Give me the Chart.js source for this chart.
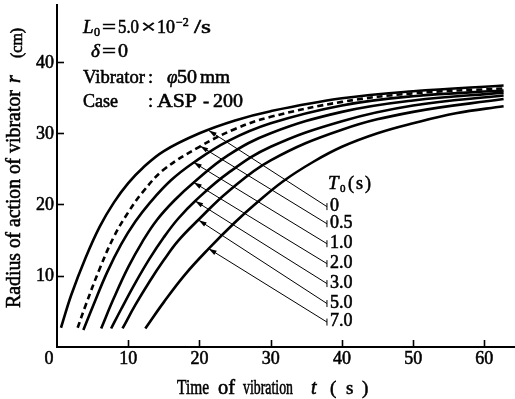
<!DOCTYPE html>
<html><head><meta charset="utf-8">
<script src="https://cdn.jsdelivr.net/npm/chart.js@4/dist/chart.umd.min.js"></script>
<style>html,body{margin:0;padding:0;background:#fff;overflow:hidden}</style>
</head><body>
<canvas id="c" width="515" height="399"></canvas>
<script>
// ---- data ----
const seriesLabels = ['0', '0.5', '1.0', '2.0', '3.0', '5.0', '7.0'];
const t_0   = [0.56, 2, 4, 6, 8, 10, 12, 15, 20, 25, 30, 40, 50, 62.7];
const r_0   = [2.7, 7.3, 12.5, 16.9, 20.3, 23.0, 25.1, 27.5, 30.0, 31.8, 33.1, 34.9, 35.9, 36.7];
const t_05  = [2.9, 4, 6, 8, 10, 12, 15, 20, 25, 30, 40, 50, 62.7];
const r_05  = [2.7, 5.8, 11.0, 15.5, 18.9, 21.7, 24.9, 28.1, 30.6, 32.3, 34.4, 35.6, 36.3];
const t_10  = [3.7, 5, 7, 9, 11, 13, 16, 19.2, 24, 30, 40, 50, 62.7];
const r_10  = [2.4, 5.6, 10.4, 14.4, 17.6, 20.2, 23.4, 25.9, 28.9, 31.4, 33.9, 35.2, 36.0];
const t_20  = [6.2, 8, 10, 12, 14, 16.5, 19.2, 24, 30, 40, 50, 62.7];
const r_20  = [2.6, 6.9, 11.2, 14.8, 17.8, 20.6, 23.1, 26.9, 30.0, 33.0, 34.6, 35.7];
const t_30  = [7.6, 9, 11, 13, 15, 17, 19.4, 24, 30, 40, 50, 62.7];
const r_30  = [2.6, 5.3, 9.0, 12.4, 15.4, 18.0, 20.5, 24.4, 28.1, 31.7, 33.9, 35.3];
const t_50  = [9.2, 11, 13, 15, 17, 19.9, 24, 30, 40, 50, 62.7];
const r_50  = [2.6, 5.9, 9.2, 12.2, 14.9, 17.9, 21.8, 26.2, 30.5, 33.0, 34.8];
const t_70  = [12.4, 15, 18, 21.3, 25, 28, 31.8, 36, 40, 45, 50, 56, 62.7];
const r_70  = [2.6, 6.3, 10.2, 13.8, 17.5, 20.2, 23.3, 26.0, 28.1, 30.0, 31.4, 32.8, 33.8];
const xTicks = [0, 10, 20, 30, 40, 50, 60];
const yTicks = [10, 20, 30, 40];
// arrow tips on the curves and label anchors (data units)
const tipT = [21.3, 20.1, 19.2, 19.2, 19.4, 19.9, 21.3];
const tipR = [30.4, 28.2, 25.9, 23.1, 20.5, 17.8, 13.8];
const labelT = 37.9;
const labelR = [19.7, 17.3, 14.5, 11.7, 8.9, 6.1, 3.5];

const tSets = [t_0, t_05, t_10, t_20, t_30, t_50, t_70];
const rSets = [r_0, r_05, r_10, r_20, r_30, r_50, r_70];

const SERIF = '"Liberation Serif", "DejaVu Serif", serif';
const F = (s, st) => (st ? st + ' ' : '') + s + 'px ' + SERIF;

const datasets = tSets.map((ts, i) => ({
  label: 'T0=' + seriesLabels[i],
  data: ts.map((t, k) => ({x: t, y: rSets[i][k]})),
  showLine: true,
  borderColor: '#000',
  borderWidth: 2.6,
  borderDash: i === 1 ? [6, 4] : [],
  pointRadius: 0,
  fill: false,
  tension: 0.4
}));

// text filled + thin stroke; optional target width w (horizontal fit)
function txt(ctx, s, x, y, w) {
  const m = ctx.measureText(s).width;
  ctx.save();
  ctx.translate(x, y);
  if (w && m > 0) ctx.scale(w / m, 1);
  ctx.fillText(s, 0, 0);
  ctx.lineWidth = 0.55;
  ctx.strokeText(s, 0, 0);
  ctx.restore();
}
function rich(ctx, y, parts) {
  for (const p of parts) {
    ctx.font = p.f;
    txt(ctx, p.t, p.x, y + (p.dy || 0), p.w);
  }
}

const overlay = {
  id: 'overlay',
  afterDraw(chart) {
    const ctx = chart.ctx;
    const xs = chart.scales.x, ys = chart.scales.y;
    ctx.save();
    ctx.fillStyle = '#000';
    ctx.strokeStyle = '#000';
    ctx.textAlign = 'left';
    // inward ticks
    ctx.lineWidth = 1.6;
    const y0 = ys.getPixelForValue(0), x0 = xs.getPixelForValue(0);
    xTicks.forEach(v => {
      if (v === 0) return;
      const px = Math.round(xs.getPixelForValue(v)) + 0.5;
      ctx.beginPath(); ctx.moveTo(px, y0); ctx.lineTo(px, y0 - 7); ctx.stroke();
    });
    yTicks.forEach(v => {
      const py = Math.round(ys.getPixelForValue(v)) + 0.5;
      ctx.beginPath(); ctx.moveTo(x0, py); ctx.lineTo(x0 + 7, py); ctx.stroke();
    });
    // tick labels
    ctx.font = F(18);
    ctx.textBaseline = 'middle';
    ctx.textAlign = 'center';
    xTicks.forEach(v => {
      const px = xs.getPixelForValue(v) - (v === 0 ? 8 : 0);
      txt(ctx, String(v), px, y0 + 12);
    });
    ctx.textAlign = 'right';
    yTicks.forEach(v => {
      txt(ctx, String(v), x0 - 3, ys.getPixelForValue(v) + 1);
    });
    // arrows with labels
    ctx.textAlign = 'left';
    tipT.forEach((tt, i) => {
      const ax = xs.getPixelForValue(labelT), ay = ys.getPixelForValue(labelR[i]);
      const bx = xs.getPixelForValue(tt), by = ys.getPixelForValue(tipR[i]);
      ctx.lineWidth = 1;
      ctx.beginPath(); ctx.moveTo(ax, ay); ctx.lineTo(bx, by); ctx.stroke();
      ctx.beginPath(); ctx.moveTo(ax, ay - 3.5); ctx.lineTo(ax, ay + 3.5); ctx.stroke();
      const ang = Math.atan2(by - ay, bx - ax);
      const L = 8, W = 2.4;
      ctx.beginPath();
      ctx.moveTo(bx, by);
      ctx.lineTo(bx - L * Math.cos(ang) + W * Math.sin(ang), by - L * Math.sin(ang) - W * Math.cos(ang));
      ctx.lineTo(bx - L * Math.cos(ang) - W * Math.sin(ang), by - L * Math.sin(ang) + W * Math.cos(ang));
      ctx.closePath(); ctx.fill();
      ctx.font = F(18);
      txt(ctx, seriesLabels[i], ax + 3, ay - 0.5);
    });
    // T0 (s)
    ctx.textBaseline = 'alphabetic';
    const tx = xs.getPixelForValue(labelT) + 1;
    rich(ctx, 189, [
      {t: 'T', f: F(19, 'italic'), x: tx},
      {t: '0', f: F(11), dy: 3, x: tx + 12},
      {t: '(', f: F(18), x: tx + 20},
      {t: 's', f: F(18), x: tx + 28},
      {t: ')', f: F(18), x: tx + 37}
    ]);
    // parameter block
    const P = F(18.5), PI = F(19, 'italic'), PS = F(12);
    rich(ctx, 33, [
      {t: 'L', f: PI, x: 83},
      {t: '0', f: PS, dy: 3, x: 94},
      {t: '=', f: P, x: 102, w: 14},
      {t: '5.0', f: P, x: 118, w: 21},
      {t: '×', f: P, x: 141, w: 15},
      {t: '10', f: P, x: 157, w: 18},
      {t: '−2', f: PS, dy: -7, x: 176},
      {t: '/s', f: P, x: 194, w: 17}
    ]);
    rich(ctx, 57, [
      {t: 'δ', f: PI, x: 91},
      {t: '=', f: P, x: 102, w: 14},
      {t: '0', f: P, x: 118, w: 10}
    ]);
    rich(ctx, 83, [
      {t: 'Vibrator', f: P, x: 83, w: 62},
      {t: ':', f: P, x: 148},
      {t: 'φ', f: PI, x: 167},
      {t: '50', f: P, x: 177, w: 20},
      {t: 'mm', f: P, x: 200, w: 30}
    ]);
    rich(ctx, 107, [
      {t: 'Case', f: P, x: 83, w: 35},
      {t: ':', f: P, x: 148},
      {t: 'ASP', f: P, x: 157, w: 40},
      {t: '-', f: P, x: 203},
      {t: '200', f: P, x: 213, w: 30}
    ]);
    // x title (words placed as in the reference)
    rich(ctx, 394, [
      {t: 'Time', f: F(20), x: 177, w: 32},
      {t: 'of', f: F(20), x: 218, w: 17},
      {t: 'vibration', f: F(20), x: 243, w: 50},
      {t: 't', f: F(20, 'italic'), x: 311},
      {t: '(', f: F(19), x: 330},
      {t: 's', f: F(19), x: 346},
      {t: ')', f: F(19), x: 362}
    ]);
    // y title
    ctx.translate(20, 308);
    ctx.rotate(-Math.PI / 2);
    rich(ctx, 0, [
      {t: 'Radius', f: F(20), x: 0, w: 55},
      {t: 'of', f: F(20), x: 60, w: 16},
      {t: 'action', f: F(20), x: 81, w: 48},
      {t: 'of', f: F(20), x: 134, w: 16},
      {t: 'vibrator', f: F(20), x: 155, w: 63},
      {t: 'r', f: F(20, 'italic'), x: 225},
      {t: '(cm)', f: F(16), x: 250, dy: 2}
    ]);
    ctx.restore();
  }
};

new Chart(document.getElementById('c'), {
  type: 'scatter',
  data: {datasets},
  options: {
    responsive: false,
    animation: false,
    devicePixelRatio: 1,
    layout: {padding: {top: 5, right: 0, left: 0, bottom: 0}},
    plugins: {legend: {display: false}, tooltip: {enabled: false}},
    scales: {
      x: {
        type: 'linear', min: 0, max: 64.3,
        afterFit: s => { s.height = 52; },
        border: {display: true, color: '#000', width: 2},
        grid: {display: true, drawOnChartArea: false, drawTicks: false},
        ticks: {display: false, stepSize: 10, includeBounds: false},
        title: {display: false}
      },
      y: {
        type: 'linear', min: 0, max: 48,
        afterFit: s => { s.width = 57; },
        border: {display: true, color: '#000', width: 2},
        grid: {display: true, drawOnChartArea: false, drawTicks: false},
        ticks: {display: false, stepSize: 10, includeBounds: false},
        title: {display: false}
      }
    }
  },
  plugins: [overlay]
});
</script>
</body></html>
